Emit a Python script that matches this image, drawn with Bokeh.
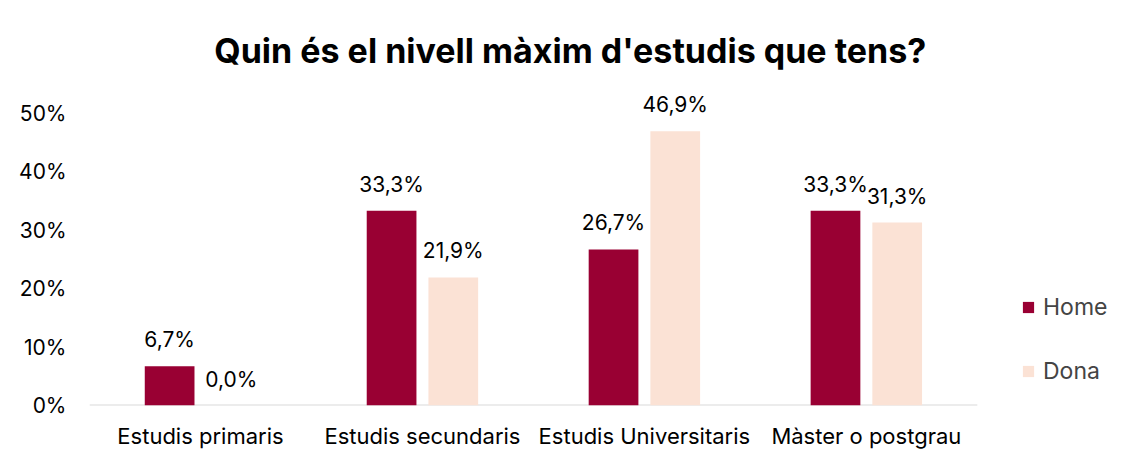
from bokeh.plotting import figure
from bokeh.models import (ColumnDataSource, Range1d, FixedTicker, Label, Legend,
                          LegendItem, NumeralTickFormatter, LabelSet)
from bokeh.core.properties import value
from bokeh.embed import file_html
from bokeh.resources import INLINE

categories = ["Estudis primaris", "Estudis secundaris", "Estudis Universitaris", "Màster o postgrau"]
home = [0.067, 0.333, 0.267, 0.333]
dona = [0.0, 0.219, 0.469, 0.313]
series = ["Home", "Dona"]
colors = ["#990033", "#FBE2D5"]
y_ticks = [0, 0.1, 0.2, 0.3, 0.4, 0.5]
title_text = "Quin és el nivell màxim d'estudis que tens?"

FONT = "Inter"

def fmt(v):
    return f"{v*100:.1f}%".replace(".", ",")

n = len(categories)
xs = [i + 0.5 for i in range(n)]
src_h = ColumnDataSource(dict(x=[x - 0.139 for x in xs], top=home, lab=[fmt(v) for v in home]))
src_d = ColumnDataSource(dict(x=[x + 0.139 for x in xs], top=dona, lab=[fmt(v) for v in dona]))

p = figure(width=1110, height=451, output_backend="svg", toolbar_location=None,
           x_range=Range1d(0, 4.6), y_range=Range1d(0, 0.6928),
           min_border_left=89, min_border_right=0, min_border_top=0, min_border_bottom=40)
p.outline_line_color = None
p.xgrid.visible = False
p.ygrid.visible = False

# baseline
p.segment(x0=[0], y0=[0], x1=[n], y1=[0], line_color="#D9D9D9", line_width=2)

r1 = p.vbar(x="x", top="top", width=0.224, source=src_h, fill_color=colors[0], line_color=None)
r2 = p.vbar(x="x", top="top", width=0.224, source=src_d, fill_color=colors[1], line_color=None)

for s in (src_h, src_d):
    p.add_layout(LabelSet(x="x", y="top", text="lab", source=s, text_align="center",
                          text_baseline="alphabetic", y_offset=19, text_font_size="21px",
                          text_font=value(FONT), text_color="#000000"))

p.xaxis.ticker = FixedTicker(ticks=xs)
p.xaxis.major_label_overrides = {x: c for x, c in zip(xs, categories)}
p.xaxis.major_tick_line_color = None
p.xaxis.major_tick_out = 0
p.xaxis.major_tick_in = 0
p.xaxis.minor_tick_line_color = None
p.xaxis.axis_line_color = None
p.xaxis.major_label_text_font_size = "22px"
p.xaxis.major_label_text_font = FONT
p.xaxis.major_label_text_color = "#000000"
p.xaxis.major_label_standoff = 17

p.yaxis.ticker = FixedTicker(ticks=y_ticks)
p.yaxis.formatter = NumeralTickFormatter(format="0%")
p.yaxis.major_tick_line_color = None
p.yaxis.major_tick_out = 0
p.yaxis.major_tick_in = 0
p.yaxis.minor_tick_line_color = None
p.yaxis.axis_line_color = None
p.yaxis.major_label_text_font_size = "21px"
p.yaxis.major_label_text_font = FONT
p.yaxis.major_label_text_color = "#000000"
p.yaxis.major_label_standoff = 23

p.add_layout(Label(x=2.166, y=0.6075, text=title_text, text_align="center",
                   text_baseline="middle", text_font_size="34px", text_font_style="bold",
                   text_font=FONT, text_color="#000000"))

legend = Legend(items=[LegendItem(label=series[0], renderers=[r1]),
                       LegendItem(label=series[1], renderers=[r2])],
                location=(926, 14), orientation="vertical", margin=0,
                glyph_width=14, glyph_height=14, spacing=36, label_standoff=8,
                label_text_font_size="23px", label_text_font=FONT,
                border_line_alpha=0, background_fill_alpha=0, padding=6)
p.add_layout(legend, "center")

open("out.html", "w").write(file_html(p, INLINE))
